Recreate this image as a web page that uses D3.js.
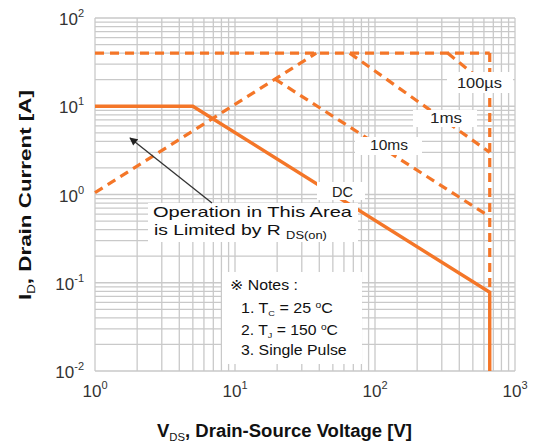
<!DOCTYPE html>
<html><head><meta charset="utf-8">
<script src="https://cdn.jsdelivr.net/npm/d3@7"></script>
<style>html,body{margin:0;padding:0;background:#fff;} svg{display:block;font-family:"Liberation Sans",Arial,"DejaVu Sans","Noto Sans CJK SC",sans-serif;}</style>
</head><body><svg id="c" width="538" height="444"></svg>
<script>
// ---- data ----
const xDomain = [1, 1000];          // V_DS [V]
const yDomain = [0.01, 100];        // I_D [A]
const xTickExp = [0, 1, 2, 3];
const yTickExp = [-2, -1, 0, 1, 2];
const currentLimit = [[1, 40], [660, 40]];
const vdssLimit = [[660, 40], [660, 0.078]];
const rdsonLimit = [[1, 1.05], [38, 40]];
const pulse100us = [[330, 40], [660, 16.5]];
const pulse1ms = [[66, 40], [660, 3.0]];
const pulse10ms = [[19.3, 20.3], [660, 0.56]];
const dcLimit = [[1, 10], [5, 10], [660, 0.078], [660, 0.01]];
const curveLabels = ["100µs", "1ms", "10ms", "DC"];
const notes = ["※ Notes :", "1. T|C| = 25 °C", "2. T|J| = 150 °C", "3. Single Pulse"];

// ---- layout ----
const svg = d3.select("#c");
const L = 95, R = 515, T = 18, B = 371;
const x = d3.scaleLog().domain(xDomain).range([L, R]);
const y = d3.scaleLog().domain(yDomain).range([B, T]);
const ORANGE = "#f47628";
const GRID = "#c9c9c9";

function fit(t, w) {
  const bb = t.node().getBBox();
  const s = w / bb.width, x0 = bb.x;
  t.attr("transform", `translate(${x0},0) scale(${s},1) translate(${-x0},0)`);
}

// grid
const g = svg.append("g");
g.selectAll(".vx").data(x.ticks()).join("line")
  .attr("x1", d => x(d)).attr("x2", d => x(d)).attr("y1", T).attr("y2", B)
  .attr("stroke", GRID).attr("stroke-width", 1.3);
g.selectAll(".hy").data(y.ticks()).join("line")
  .attr("y1", d => y(d)).attr("y2", d => y(d)).attr("x1", L).attr("x2", R)
  .attr("stroke", GRID).attr("stroke-width", 1.3);

// tick labels
const xl = svg.append("g").attr("fill", "#333").attr("font-size", 17);
xTickExp.forEach(e => {
  const t = xl.append("text").attr("x", x(Math.pow(10, e))).attr("y", 397).attr("text-anchor", "middle");
  t.append("tspan").text("10");
  t.append("tspan").attr("font-size", 11).attr("dy", -8).text(e);
});
yTickExp.forEach(e => {
  const t = xl.append("text").attr("x", 84).attr("y", y(Math.pow(10, e)) + 7).attr("text-anchor", "end");
  t.append("tspan").text("10");
  t.append("tspan").attr("font-size", 11).attr("dy", -8).text(e);
});

// curves
const line = d3.line().x(d => x(d[0])).y(d => y(d[1]));
const dashed = [currentLimit, vdssLimit, rdsonLimit, pulse100us, pulse1ms, pulse10ms];
svg.append("g").selectAll("path").data(dashed).join("path")
  .attr("d", line).attr("fill", "none").attr("stroke", ORANGE)
  .attr("stroke-width", 3.2).attr("stroke-dasharray", "9,6");
svg.append("path").datum(dcLimit).attr("d", line).attr("fill", "none")
  .attr("stroke", ORANGE).attr("stroke-width", 3.4).attr("stroke-linejoin", "miter");

// white label boxes
const boxes = [
  [447, 72, 66, 21], [413, 110, 64, 17], [355, 137, 67, 18], [317, 182, 48, 18],
  [148, 203, 210, 39], [222, 272, 140, 92]
];
svg.append("g").selectAll("rect").data(boxes).join("rect")
  .attr("x", d => d[0]).attr("y", d => d[1]).attr("width", d => d[2]).attr("height", d => d[3])
  .attr("fill", "#fff");

// curve labels
const lab = svg.append("g").attr("fill", "#222").attr("font-size", 14);
const labPos = [[457, 88, 45], [430, 123, 32], [370, 150, 38], [332, 197, 21]];
curveLabels.forEach((s, i) => {
  const t = lab.append("text").attr("x", labPos[i][0]).attr("y", labPos[i][1]).text(s);
  fit(t, labPos[i][2]);
});

// arrow
svg.append("defs").append("marker").attr("id", "ah").attr("viewBox", "0 0 10 10")
  .attr("refX", 9).attr("refY", 5).attr("markerWidth", 10).attr("markerHeight", 8)
  .attr("markerUnits", "userSpaceOnUse").attr("orient", "auto")
  .append("path").attr("d", "M0,0L10,5L0,10Z").attr("fill", "#222");
svg.append("line").attr("x1", 212).attr("y1", 203).attr("x2", 130).attr("y2", 138)
  .attr("stroke", "#333").attr("stroke-width", 1.3).attr("marker-end", "url(#ah)");

// operation text
const op1 = lab.append("text").attr("x", 153).attr("y", 217).attr("font-size", 15).attr("fill", "#111").text("Operation in This Area");
fit(op1, 200);
const op2 = lab.append("text").attr("x", 154).attr("y", 235).attr("font-size", 15).attr("fill", "#111");
op2.append("tspan").text("is Limited by R ");
op2.append("tspan").attr("font-size", 10).attr("dy", 4).text("DS(on)");
fit(op2, 173);

// notes
const nb = [[230, 290, 68], [241, 313, 92], [241, 335, 97], [241, 355, 106]];
notes.forEach((s, i) => {
  const t = lab.append("text").attr("x", nb[i][0]).attr("y", nb[i][1]).attr("font-size", 14).attr("fill", "#111");
  const parts = s.split("|");
  if (parts.length === 3) {
    t.append("tspan").text(parts[0]);
    t.append("tspan").attr("font-size", 8).attr("dy", 3).text(parts[1]);
    const rest = parts[2].split("°");
    t.append("tspan").attr("dy", -3).text(rest[0]);
    t.append("tspan").attr("font-size", 9).attr("dy", -5).text("o");
    t.append("tspan").attr("dy", 5).text(rest[1]);
  } else t.text(s);
  fit(t, nb[i][2]);
});

// axis titles
const xt = svg.append("text").attr("x", 157).attr("y", 437).attr("font-size", 18)
  .attr("font-weight", "bold").attr("fill", "#111");
xt.append("tspan").text("V");
xt.append("tspan").attr("font-size", 11).attr("dy", 4).attr("font-weight", "normal").text("DS");
xt.append("tspan").attr("dy", -4).text(", Drain-Source Voltage [V]");
fit(xt, 255);

const yg = svg.append("g").attr("transform", "translate(31,195) rotate(-90)");
const yt = yg.append("text").attr("x", 0).attr("y", 0).attr("text-anchor", "middle")
  .attr("font-size", 17).attr("font-weight", "bold").attr("fill", "#111");
yt.append("tspan").text("I");
yt.append("tspan").attr("font-size", 10).attr("dy", 4).attr("font-weight", "normal").text("D");
yt.append("tspan").attr("dy", -4).text(", Drain Current [A]");
const ybb = yt.node().getBBox();
yt.attr("transform", `scale(${210 / ybb.width},1)`);
</script></body></html>
